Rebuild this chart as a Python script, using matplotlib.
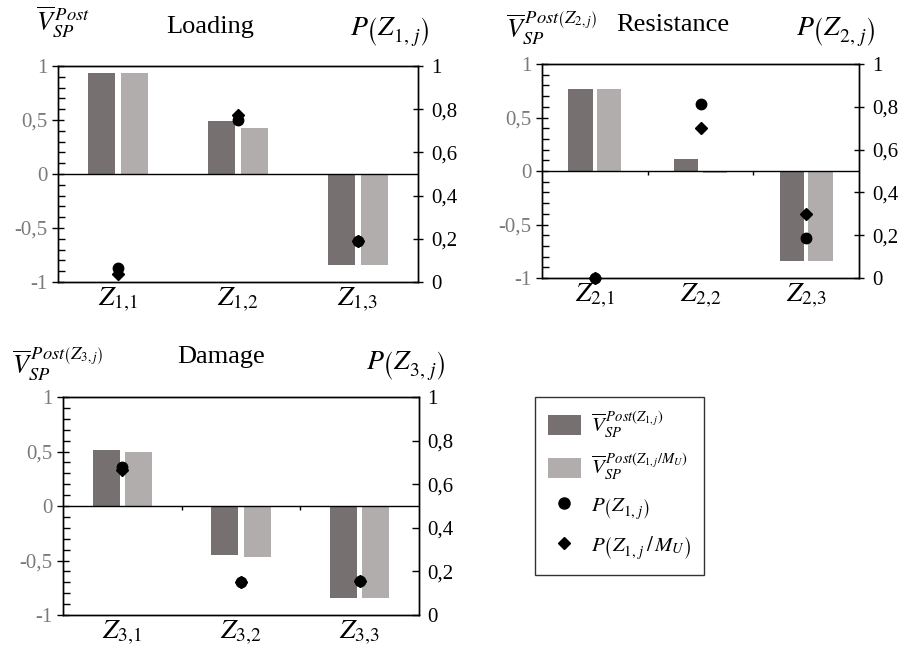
import matplotlib
matplotlib.use("Agg")
import matplotlib.pyplot as plt
import numpy as np
from matplotlib.ticker import FixedLocator, FuncFormatter, MultipleLocator, NullFormatter
from matplotlib.patches import Patch
from matplotlib.lines import Line2D

plt.rcParams['font.family'] = ['Liberation Serif', 'DejaVu Serif']
plt.rcParams['mathtext.fontset'] = 'stix'

# ---------------- data ----------------
categories_loading = [r'$Z_{1,\!1}$', r'$Z_{1,\!2}$', r'$Z_{1,\!3}$']
categories_resist = [r'$Z_{2,\!1}$', r'$Z_{2,\!2}$', r'$Z_{2,\!3}$']
categories_damage = [r'$Z_{3,\!1}$', r'$Z_{3,\!2}$', r'$Z_{3,\!3}$']

loading_dark = [0.935, 0.49, -0.845]
loading_light = [0.935, 0.425, -0.845]
loading_p = [0.065, 0.75, 0.19]
loading_pm = [0.035, 0.775, 0.19]

resist_dark = [0.765, 0.115, -0.845]
resist_light = [0.765, -0.015, -0.845]
resist_p = [0.0, 0.815, 0.185]
resist_pm = [0.0, 0.70, 0.30]

damage_dark = [0.515, -0.445, -0.845]
damage_light = [0.50, -0.465, -0.845]
damage_p = [0.68, 0.15, 0.155]
damage_pm = [0.665, 0.15, 0.155]

titles = ['Loading', 'Resistance', 'Damage']
left_labels = [r'$\overline{V}_{SP}^{\,Post}$',
               r'$\overline{V}_{SP}^{\,Post\left(Z_{2,j}\right)}$',
               r'$\overline{V}_{SP}^{\,Post\left(Z_{3,j}\right)}$']
right_labels = [r'$P\left(Z^{\,}_{1,\,j}\right)$', r'$P\left(Z^{\,}_{2,\,j}\right)$',
                r'$P\left(Z^{\,}_{3,\,j}\right)$']
legend_labels = [r'$\overline{V}_{SP}^{\,Post\left(Z_{1,j}\right)}$',
                 r'$\overline{V}_{SP}^{\,Post\left(Z_{1,j}/M_U\right)}$',
                 r'$P\left(Z^{\,}_{1,\,j}\right)$',
                 r'$P\left(Z^{\,}_{1,\,j}\,/\,M_U\right)$']

DARK = '#767170'
LIGHT = '#b0adac'
GRAY_TXT = '#7a7a7a'

W, H = 906, 655
fig = plt.figure(figsize=(W / 100, H / 100), dpi=100)

def px(x0, y0, x1, y1):
    return [x0 / W, 1 - y1 / H, (x1 - x0) / W, (y1 - y0) / H]

panels = [
    dict(rect=px(58, 66, 418, 282), cats=categories_loading, dark=loading_dark, light=loading_light,
         p=loading_p, pm=loading_pm, zticks=False, rdir='inout'),
    dict(rect=px(542, 64, 859, 278), cats=categories_resist, dark=resist_dark, light=resist_light,
         p=resist_p, pm=resist_pm, zticks=True, rdir='inout'),
    dict(rect=px(63, 397, 419, 615), cats=categories_damage, dark=damage_dark, light=damage_light,
         p=damage_p, pm=damage_pm, zticks=True, rdir='in'),
]

def comma(v, pos):
    s = f'{v:.1f}'.rstrip('0').rstrip('.') if abs(v - round(v)) > 1e-9 else f'{int(round(v))}'
    return s.replace('.', ',')

bw = 0.228
off = 0.136
for pnl in panels:
    ax = fig.add_axes(pnl['rect'])
    x = np.arange(len(pnl['cats']))
    ax.bar(x - off, pnl['dark'], width=bw, color=DARK, zorder=2)
    ax.bar(x + off, pnl['light'], width=bw, color=LIGHT, zorder=2)
    ax.set_xlim(-0.5, 2.5)
    ax.set_ylim(-1, 1)
    ax.axhline(0, color='black', lw=1.0, zorder=3)
    ax.set_xticks(x)
    ax.set_xticklabels(pnl['cats'], fontsize=20)
    ax.tick_params(axis='x', length=0, pad=3)
    ax.yaxis.set_major_locator(MultipleLocator(0.5))
    ax.yaxis.set_minor_locator(MultipleLocator(0.1))
    ax.yaxis.set_major_formatter(FuncFormatter(comma))
    ax.tick_params(axis='y', which='major', direction='inout', length=9, width=1,
                   labelsize=15, labelcolor=GRAY_TXT, pad=3)
    ax.tick_params(axis='y', which='minor', direction='in', length=5, width=1)
    for s in ax.spines.values():
        s.set_linewidth(1.0)
        s.set_color('black')
    if pnl['zticks']:
        sec = ax.secondary_xaxis(0.5)
        sec.set_xticks([0.5, 1.5])
        sec.xaxis.set_major_formatter(NullFormatter())
        sec.tick_params(axis='x', direction='in', length=3, width=1)
        for s in sec.spines.values():
            s.set_visible(False)
    ax2 = ax.twinx()
    ax2.set_ylim(0, 1)
    ax2.yaxis.set_major_locator(FixedLocator([0, 0.2, 0.4, 0.6, 0.8, 1.0]))
    ax2.yaxis.set_major_formatter(FuncFormatter(comma))
    ax2.tick_params(axis='y', direction=pnl['rdir'], length=7 if pnl['rdir'] == 'inout' else 5,
                    width=1, labelsize=15, labelcolor='black', pad=6)
    ax2.plot(x, pnl['pm'], linestyle='none', marker='D', markersize=6, color='black',
             zorder=4, clip_on=False)
    ax2.plot(x, pnl['p'], linestyle='none', marker='o', markersize=7.5, color='black',
             zorder=5, clip_on=False)
    for s in ax2.spines.values():
        s.set_linewidth(1.0)

def ftxt(xp, yp, s, **kw):
    fig.text(xp / W, 1 - yp / H, s, **kw)

# panel 1 labels
ftxt(36, 22, left_labels[0], fontsize=19, ha='left', va='center')
ftxt(210, 27, titles[0], fontsize=19, ha='center', va='center')
ftxt(350, 32, right_labels[0], fontsize=20, ha='left', va='center')
# panel 2 labels
ftxt(506, 28, left_labels[1], fontsize=19, ha='left', va='center')
ftxt(673, 25, titles[1], fontsize=19, ha='center', va='center')
ftxt(796, 32, right_labels[1], fontsize=20, ha='left', va='center')
# panel 3 labels
ftxt(12, 364, left_labels[2], fontsize=19, ha='left', va='center')
ftxt(221, 357, titles[2], fontsize=19, ha='center', va='center')
ftxt(366, 365, right_labels[2], fontsize=20, ha='left', va='center')

handles = [Patch(facecolor=DARK), Patch(facecolor=LIGHT),
           Line2D([], [], linestyle='none', marker='o', markersize=8, color='black'),
           Line2D([], [], linestyle='none', marker='D', markersize=6, color='black')]
leg = fig.legend(handles, legend_labels, loc='upper left', bbox_to_anchor=(535 / W, 1 - 397 / H),
                 frameon=True, fancybox=False, edgecolor='black', fontsize=15,
                 labelspacing=0.6, handlelength=1.6, handleheight=1.1, borderpad=0.6,
                 handletextpad=0.5, borderaxespad=0)
leg.get_frame().set_linewidth(1.0)

fig.savefig('out.png', dpi=100)
